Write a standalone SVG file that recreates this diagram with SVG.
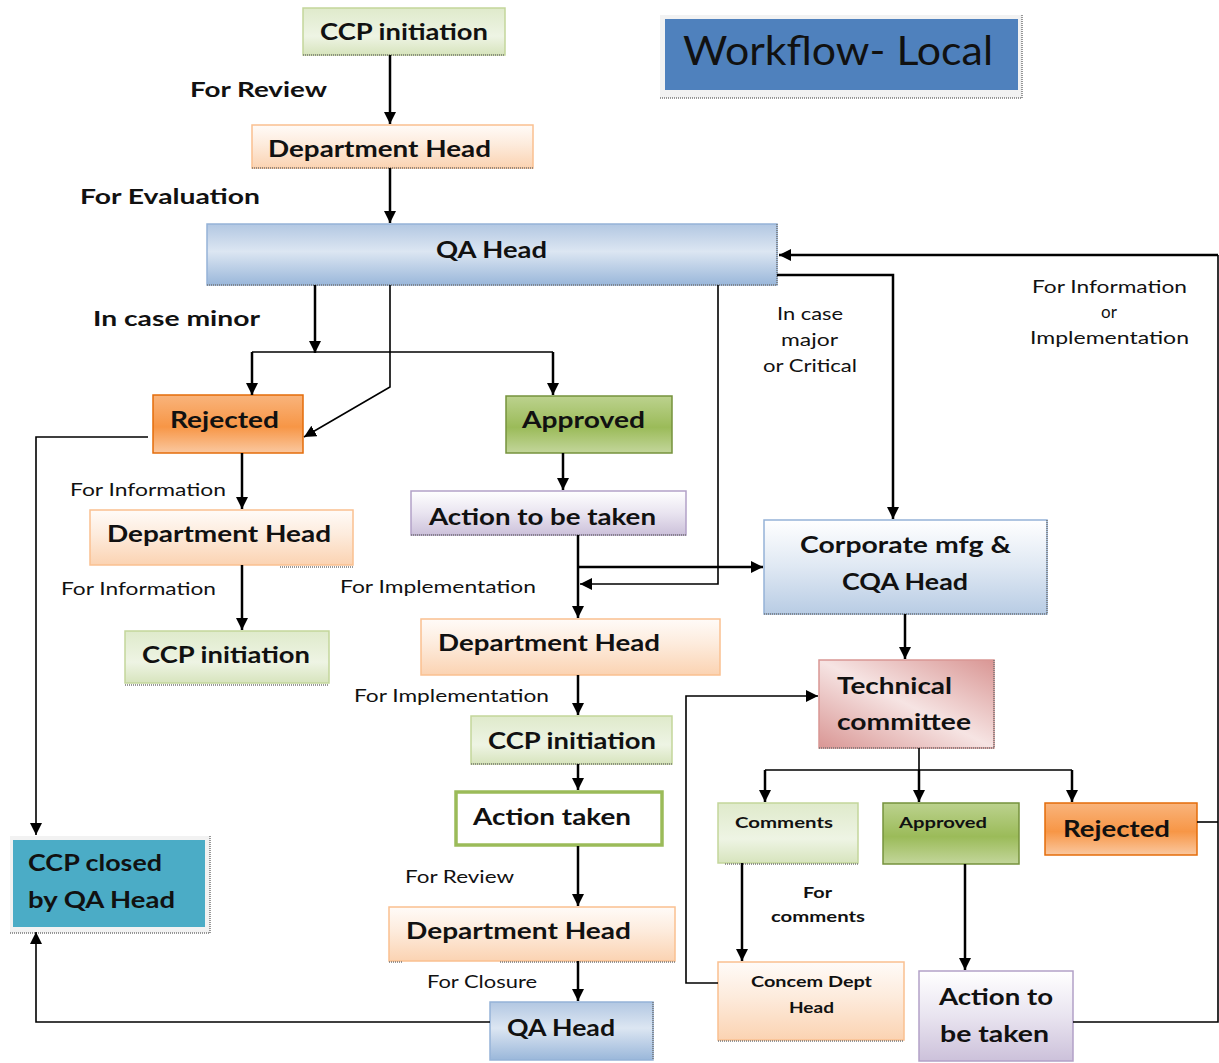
<svg xmlns="http://www.w3.org/2000/svg" width="1219" height="1063" viewBox="0 0 1219 1063">
<defs>
<linearGradient id="gGreenL" x1="0" y1="0" x2="0" y2="1"><stop offset="0" stop-color="#dfeacb"/><stop offset="0.6" stop-color="#eef4e4"/><stop offset="1" stop-color="#d7e4bd"/></linearGradient>
<linearGradient id="gOrangeL" x1="0" y1="0" x2="0" y2="1"><stop offset="0" stop-color="#fffbf8"/><stop offset="0.45" stop-color="#fdebdc"/><stop offset="1" stop-color="#fbd3b2"/></linearGradient>
<linearGradient id="gBlue" x1="0" y1="0" x2="0" y2="1"><stop offset="0" stop-color="#b2c7e2"/><stop offset="0.45" stop-color="#dce6f2"/><stop offset="1" stop-color="#9ab7da"/></linearGradient>
<linearGradient id="gBlueL" x1="0" y1="0" x2="0" y2="1"><stop offset="0" stop-color="#ffffff"/><stop offset="0.5" stop-color="#dfe8f3"/><stop offset="1" stop-color="#b8cce4"/></linearGradient>
<linearGradient id="gOrange" x1="0" y1="0" x2="0" y2="1"><stop offset="0" stop-color="#f9b47c"/><stop offset="0.55" stop-color="#f79646"/><stop offset="1" stop-color="#fac8a0"/></linearGradient>
<linearGradient id="gGreen" x1="0" y1="0" x2="0" y2="1"><stop offset="0" stop-color="#bcd28e"/><stop offset="0.55" stop-color="#9bbb59"/><stop offset="1" stop-color="#c3d69b"/></linearGradient>
<linearGradient id="gPurple" x1="0" y1="0" x2="0" y2="1"><stop offset="0" stop-color="#ffffff"/><stop offset="0.5" stop-color="#e9e4f0"/><stop offset="1" stop-color="#ccc1da"/></linearGradient>
<linearGradient id="gRed" x1="0" y1="1" x2="1" y2="0"><stop offset="0" stop-color="#d99694"/><stop offset="0.5" stop-color="#f6e4e3"/><stop offset="1" stop-color="#d99694"/></linearGradient>
<marker id="arr" markerUnits="userSpaceOnUse" viewBox="0 0 12 12" refX="12" refY="6" markerWidth="12" markerHeight="12" orient="auto"><path d="M0,0 L12,6 L0,12 z" fill="#000"/></marker>
</defs>
<style>
text{font-family:Lato,"Liberation Sans",sans-serif;fill:#111;dominant-baseline:central;}
.b{font-weight:bold;font-size:22px;}
.m{font-weight:bold;font-size:20px;}
.s{font-size:17px;}
.xs{font-size:15px;font-weight:bold;}
.c{text-anchor:middle;}
.greenL{fill:url(#gGreenL);stroke:#c3d69b;stroke-width:1.5;}
.orangeL{fill:url(#gOrangeL);stroke:#fac090;stroke-width:1.5;}
.blue{fill:url(#gBlue);stroke:#95b3d7;stroke-width:1.5;}
.blueL{fill:url(#gBlueL);stroke:#95b3d7;stroke-width:1.5;}
.orange{fill:url(#gOrange);stroke:#e46c0a;stroke-width:1.5;}
.green{fill:url(#gGreen);stroke:#76923c;stroke-width:1.5;}
.purple{fill:url(#gPurple);stroke:#b2a1c7;stroke-width:1.5;}
.red{fill:url(#gRed);stroke:#d99694;stroke-width:1.5;}
.sh{fill:none;stroke:#777;stroke-width:1.5;stroke-dasharray:1 1;}
.k{fill:none;stroke:#000;stroke-width:2.5;}
.t{fill:none;stroke:#000;stroke-width:1.6;}
.a{marker-end:url(#arr);}
</style>
<rect width="1219" height="1063" fill="#fff"/>

<g id="title">
<rect x="660" y="15" width="362" height="83" fill="#f2f2f2"/>
<rect x="665" y="19" width="353" height="71" fill="#4f81bd"/>
<path d="M660,98 H1022 V15" class="sh"/>
<text x="838" y="50" class="c" style="font-size:40px" textLength="310" lengthAdjust="spacingAndGlyphs">Workflow- Local</text>
</g>

<g id="ccp1"><rect x="303" y="8" width="202" height="47" class="greenL"/><path d="M303,55 H505" class="sh"/><text x="404" y="31" class="b c" textLength="168" lengthAdjust="spacingAndGlyphs">CCP initiation</text></g>
<g id="dept1"><rect x="252" y="125" width="281" height="43" class="orangeL"/><path d="M252,168 H533" class="sh"/><text x="379.5" y="148" class="b c" textLength="223" lengthAdjust="spacingAndGlyphs">Department Head</text></g>
<g id="qa1"><rect x="207" y="224" width="570" height="61" class="blue"/><path d="M207,285 H777 V224" class="sh"/><text x="491.5" y="249" class="b c" textLength="111" lengthAdjust="spacingAndGlyphs">QA Head</text></g>
<g id="rej1"><rect x="153" y="395" width="150" height="58" class="orange"/><text x="224.5" y="419" class="b c" textLength="109" lengthAdjust="spacingAndGlyphs">Rejected</text></g>
<g id="app1"><rect x="506" y="396" width="166" height="57" class="green"/><text x="583.5" y="419" class="b c" textLength="123" lengthAdjust="spacingAndGlyphs">Approved</text></g>
<g id="dept2"><rect x="90" y="510" width="263" height="55" class="orangeL"/><path d="M280,567 H353" class="sh"/><text x="219" y="533" class="b c" textLength="224" lengthAdjust="spacingAndGlyphs">Department Head</text></g>
<g id="ccp2"><rect x="125" y="631" width="204" height="52" class="greenL"/><path d="M125,685 H329" class="sh"/><text x="226" y="654" class="b c" textLength="168" lengthAdjust="spacingAndGlyphs">CCP initiation</text></g>
<g id="action1"><rect x="411" y="491" width="275" height="44" class="purple"/><path d="M411,535 H686" class="sh"/><text x="542.5" y="516" class="b c" textLength="227" lengthAdjust="spacingAndGlyphs">Action to be taken</text></g>
<g id="corp"><rect x="764" y="520" width="283" height="94" class="blueL"/><path d="M764,614 H1047 V520" class="sh"/><text x="905.5" y="544" class="b c" textLength="211" lengthAdjust="spacingAndGlyphs">Corporate mfg &amp;</text><text x="905" y="581" class="b c" textLength="126" lengthAdjust="spacingAndGlyphs">CQA Head</text></g>
<g id="dept3"><rect x="421" y="619" width="299" height="56" class="orangeL"/><text x="549" y="642" class="b c" textLength="222" lengthAdjust="spacingAndGlyphs">Department Head</text></g>
<g id="tech"><rect x="819" y="660" width="175" height="88" class="red"/><path d="M819,748 H994 V660" class="sh"/><text x="837" y="685" class="b" textLength="115" lengthAdjust="spacingAndGlyphs">Technical</text><text x="837" y="721" class="b" textLength="134" lengthAdjust="spacingAndGlyphs">committee</text></g>
<g id="ccp3"><rect x="471" y="716" width="201" height="48" class="greenL"/><path d="M471,764 H672" class="sh"/><text x="572" y="740" class="b c" textLength="168" lengthAdjust="spacingAndGlyphs">CCP initiation</text></g>
<g id="taken"><rect x="456" y="792" width="206" height="53" fill="#fff" stroke="#9bbb59" stroke-width="3.5"/><text x="552" y="816" class="b c" textLength="158" lengthAdjust="spacingAndGlyphs">Action taken</text></g>
<g id="dept4"><rect x="389" y="907" width="286" height="54" class="orangeL"/><path d="M389,962 H402 M500,962 H675" class="sh"/><text x="518.5" y="930" class="b c" textLength="225" lengthAdjust="spacingAndGlyphs">Department Head</text></g>
<g id="qa2"><rect x="490" y="1002" width="163" height="58" class="blue"/><path d="M653,1002 V1060" class="sh"/><text x="561" y="1027" class="b c" textLength="108" lengthAdjust="spacingAndGlyphs">QA Head</text></g>
<g id="closed"><rect x="10" y="836" width="200" height="97" fill="#f2f2f2"/><rect x="13" y="840" width="192" height="87" fill="#4bacc6"/><path d="M10,933 H210 V836" class="sh"/><text x="28" y="862" class="b" textLength="134" lengthAdjust="spacingAndGlyphs">CCP closed</text><text x="28" y="899" class="b" textLength="147" lengthAdjust="spacingAndGlyphs">by QA Head</text></g>
<g id="comments"><rect x="718" y="803" width="140" height="60" class="greenL"/><path d="M725,864 H858" class="sh"/><text x="784" y="822" class="xs c" textLength="98" lengthAdjust="spacingAndGlyphs">Comments</text></g>
<g id="app2"><rect x="883" y="803" width="136" height="61" class="green"/><text x="943" y="822" class="xs c" textLength="88" lengthAdjust="spacingAndGlyphs">Approved</text></g>
<g id="rej2"><rect x="1045" y="803" width="152" height="52" class="orange"/><text x="1116.5" y="828" class="b c" textLength="107" lengthAdjust="spacingAndGlyphs">Rejected</text></g>
<g id="concern"><rect x="718" y="962" width="186" height="78" class="orangeL"/><path d="M718,1041 H904" class="sh"/><text x="811.5" y="981" class="xs c" textLength="121" lengthAdjust="spacingAndGlyphs">Concem Dept</text><text x="811.5" y="1007" class="xs c" textLength="45" lengthAdjust="spacingAndGlyphs">Head</text></g>
<g id="action2"><rect x="919" y="971" width="154" height="90" class="purple"/><text x="996" y="996" class="b c" textLength="114" lengthAdjust="spacingAndGlyphs">Action to</text><text x="994.5" y="1033" class="b c" textLength="109" lengthAdjust="spacingAndGlyphs">be taken</text></g>

<g id="connectors">
<path d="M390,55 V124" class="k a"/>
<path d="M390,168 V223" class="k a"/>
<path d="M315,285 V353" class="k a"/>
<path d="M252,352 H553" class="t" stroke-width="2"/>
<path d="M252,352 V395" class="k a"/>
<path d="M553,352 V395" class="k a" stroke-width="3"/>
<path d="M390,285 V387 L304,437" class="t a" stroke-width="2"/>
<path d="M148,437 H36 V835" class="t a" stroke-width="2"/>
<path d="M242,453 V509" class="k a"/>
<path d="M242,565 V630" class="k a"/>
<path d="M563,453 V490" class="k a"/>
<path d="M578,535 V618" class="k a"/>
<path d="M578,567 H763" class="k a"/>
<path d="M718,285 V584 H580" class="t a" stroke-width="2"/>
<path d="M777,275 H893 V519" class="k a"/>
<path d="M1218,255 H779" class="k a"/>
<path d="M905,614 V659" class="k a"/>
<path d="M578,675 V715" class="k a"/>
<path d="M578,764 V790" class="k a"/>
<path d="M578,846 V906" class="k a"/>
<path d="M578,961 V1001" class="k a"/>
<path d="M490,1022 H36 V932" class="t a" stroke-width="2"/>
<path d="M919,748 V770 M765,770 H1072" class="t" stroke-width="2"/>
<path d="M765,770 V802" class="k a" stroke-width="3"/>
<path d="M919,770 V802" class="k a" stroke-width="3"/>
<path d="M1072,770 V802" class="k a" stroke-width="3"/>
<path d="M742,863 V961" class="k a" stroke-width="3.5"/>
<path d="M965,864 V970" class="k a" stroke-width="3.5"/>
<path d="M718,983 H686 V696 H818" class="t a" stroke-width="2"/>
<path d="M1197,822 H1218" class="t" stroke-width="1.2"/>
<path d="M1073,1022 H1218 V255" class="t" stroke-width="1.2"/>
</g>

<g id="labels">
<text x="258.5" y="89" class="m c" textLength="137" lengthAdjust="spacingAndGlyphs">For Review</text>
<text x="170" y="196" class="m c" textLength="180" lengthAdjust="spacingAndGlyphs">For Evaluation</text>
<text x="176.5" y="318" class="m c" textLength="167" lengthAdjust="spacingAndGlyphs">In case minor</text>
<text x="148" y="489" class="s c" textLength="156" lengthAdjust="spacingAndGlyphs">For Information</text>
<text x="138.5" y="588" class="s c" textLength="155" lengthAdjust="spacingAndGlyphs">For Information</text>
<text x="438" y="586" class="s c" textLength="196" lengthAdjust="spacingAndGlyphs">For Implementation</text>
<text x="451.5" y="695" class="s c" textLength="195" lengthAdjust="spacingAndGlyphs">For Implementation</text>
<text x="459.5" y="876" class="s c" textLength="109" lengthAdjust="spacingAndGlyphs">For Review</text>
<text x="482" y="981" class="s c" textLength="110" lengthAdjust="spacingAndGlyphs">For Closure</text>
<text x="810" y="313" class="s c" textLength="66" lengthAdjust="spacingAndGlyphs">In case</text>
<text x="809.5" y="339" class="s c" textLength="57" lengthAdjust="spacingAndGlyphs">major</text>
<text x="810" y="365" class="s c" textLength="94" lengthAdjust="spacingAndGlyphs">or Critical</text>
<text x="1109.5" y="286" class="s c" textLength="155" lengthAdjust="spacingAndGlyphs">For Information</text>
<text x="1109" y="311" class="s c">or</text>
<text x="1109.5" y="337" class="s c" textLength="159" lengthAdjust="spacingAndGlyphs">Implementation</text>
<text x="817.5" y="892" class="xs c" textLength="29" lengthAdjust="spacingAndGlyphs">For</text>
<text x="818" y="916" class="xs c" textLength="94" lengthAdjust="spacingAndGlyphs">comments</text>
</g>
</svg>
